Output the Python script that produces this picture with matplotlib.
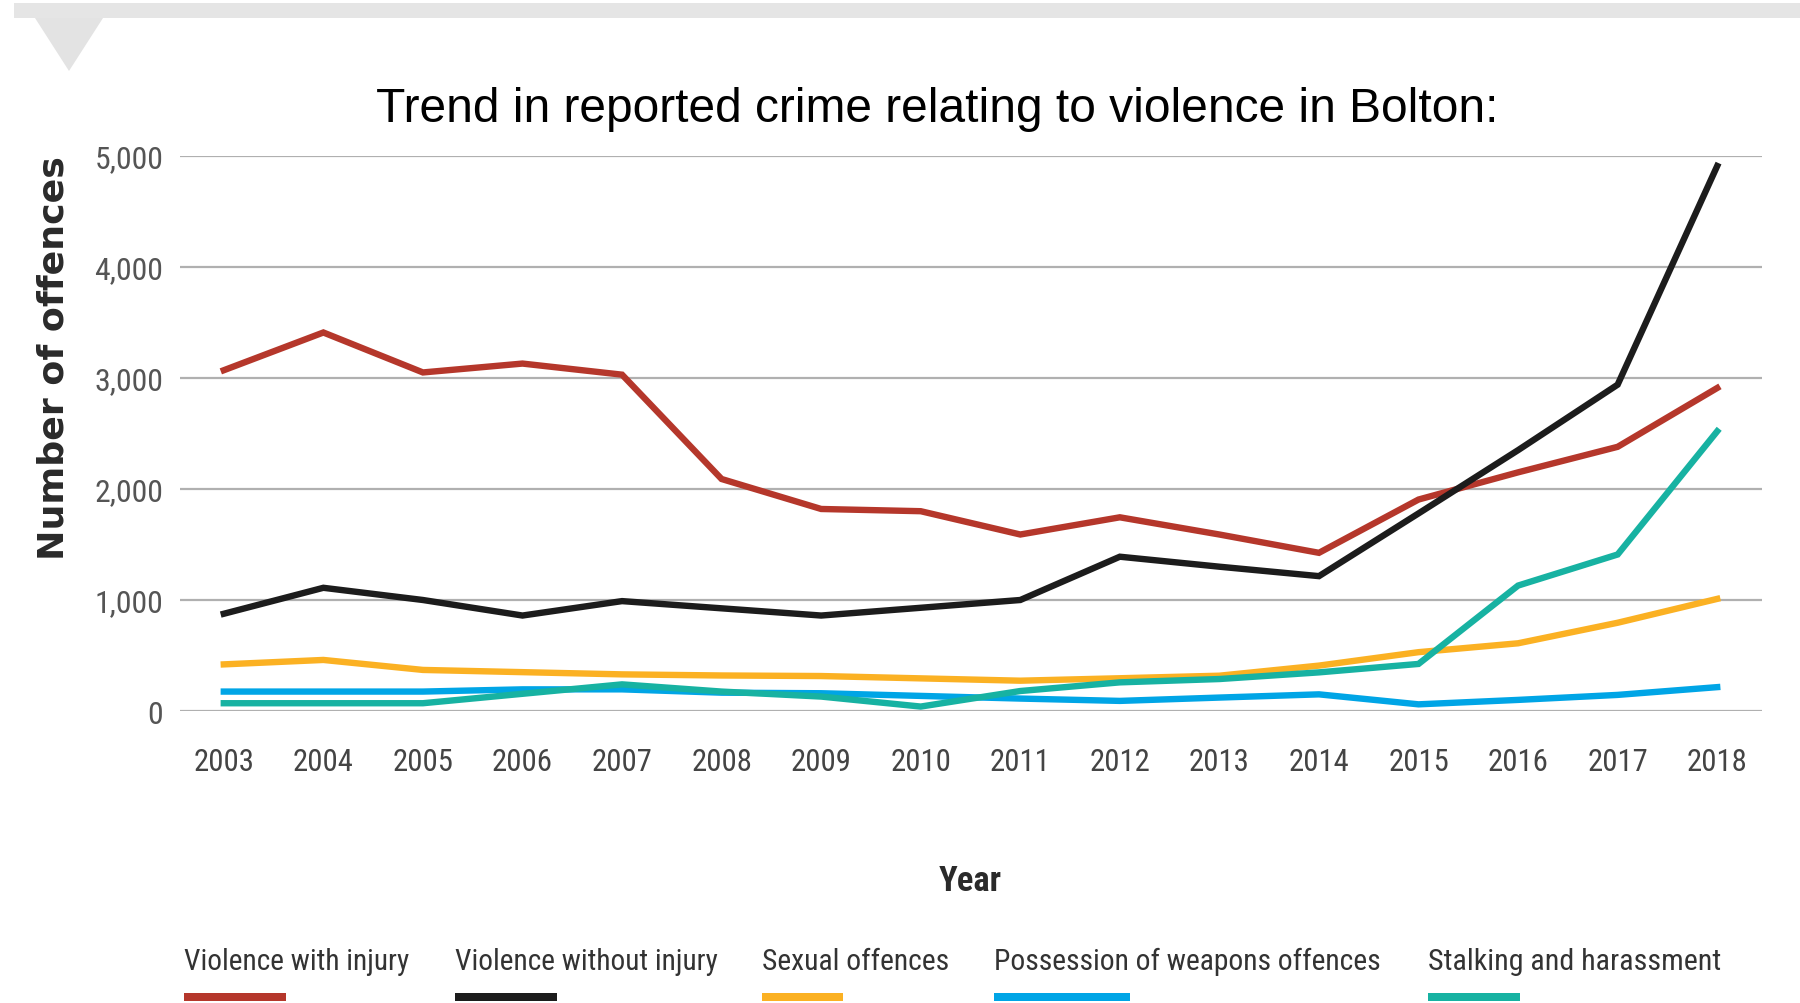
import matplotlib.pyplot as plt
from matplotlib import font_manager
from matplotlib.patches import Rectangle, Polygon

# Données
years = list(range(2003, 2019))
violence_injury = [3070, 3410, 3050, 3130, 3030, 2090, 1820, 1800, 1590, 1745, 1590, 1425, 1905, 2150, 2380, 2910]
violence_no_injury = [876, 1110, 1000, 860, 990, 925, 860, 930, 1000, 1390, 1300, 1215, 1780, 2350, 2940, 4910]
sexual = [420, 460, 370, 350, 330, 320, 315, 294, 273, 295, 318, 409, 530, 610, 795, 1010]
weapons = [175, 175, 175, 195, 195, 165, 160, 136, 112, 91, 121, 150, 60, 100, 145, 215]
stalking = [70, 70, 70, 155, 240, 175, 130, 40, 180, 258, 288, 348, 424, 1130, 1410, 2520]

series_names = ["Violence with injury", "Violence without injury", "Sexual offences",
                "Possession of weapons offences", "Stalking and harassment"]
series_values = [violence_injury, violence_no_injury, sexual, weapons, stalking]
colors = ["#b5372b", "#1c1c1c", "#fbb123", "#00a5e6", "#17b2a2"]

y_ticks = [0, 1000, 2000, 3000, 4000, 5000]
y_tick_labels = ["0", "1,000", "2,000", "3,000", "4,000", "5,000"]


def pick_font(names):
    for n in names:
        try:
            font_manager.findfont(font_manager.FontProperties(family=n), fallback_to_default=False)
            return n
        except ValueError:
            pass
    return "DejaVu Sans"


narrow = pick_font(["Liberation Sans Narrow", "Roboto Condensed", "DejaVu Sans Condensed", "Roboto"])

W, H = 1800, 1004
fig = plt.figure(figsize=(18, 10.04), dpi=100)
renderer = fig.canvas.get_renderer()


def fit(txt, target_px):
    # ajuste la taille pour retrouver la largeur du texte d'origine
    w = txt.get_window_extent(renderer).width
    txt.set_fontsize(txt.get_fontsize() * target_px / w)
    return txt


def fitted_size(s, target_px, **kw):
    t = fig.text(0, 0, s, fontsize=20, family=narrow, **kw)
    fit(t, target_px)
    size = t.get_fontsize()
    t.remove()
    return size


# bandeau gris + triangle en haut
fig.add_artist(Rectangle((14 / W, 1 - 19 / H), 1, 15 / H, transform=fig.transFigure,
                         color="#e5e5e5", lw=0))
fig.add_artist(Polygon([(35 / W, 1 - 19 / H), (103 / W, 1 - 19 / H), (69 / W, 1 - 72 / H)],
                       closed=True, transform=fig.transFigure, color="#e3e3e3", lw=0))

ax = fig.add_axes([180 / W, 1 - 712 / H, 1582 / W, 555 / H])
for vals, col in zip(series_values, colors):
    ax.plot(years, vals, color=col, lw=4.6, solid_joinstyle="miter", clip_on=False, zorder=3)

ax.set_xlim(2002.56, 2018.45)
ax.set_ylim(0, 5000)
ax.set_yticks(y_ticks)
ax.set_yticklabels(y_tick_labels)
ax.set_xticks(years)
ax.set_xticklabels([str(y) for y in years])
ax.grid(axis="y", color="#b0b0b0", lw=1.6, zorder=1)
ax.set_axisbelow(True)
for s in ax.spines.values():
    s.set_visible(False)
ax.tick_params(length=0)
ax.tick_params(axis="y", pad=12, labelsize=fitted_size("5,000", 69), labelcolor="#555555")
ax.tick_params(axis="x", pad=26, labelsize=fitted_size("2003", 61), labelcolor="#444444")
for lab in ax.get_xticklabels() + ax.get_yticklabels():
    lab.set_family(narrow)

title = fig.text(937 / W, 1 - 110 / H, "Trend in reported crime relating to violence in Bolton:",
                 ha="center", va="center", fontsize=32, family="Liberation Sans", color="black")
fit(title, 1123)
ylab = fig.text(54 / W, 1 - 358 / H, "Number of offences", rotation=90, ha="center", va="center",
                fontsize=25, fontweight="bold", family="DejaVu Sans", color="#2a2a2a")
ylab.set_fontsize(25 * 405 / ylab.get_window_extent(renderer).height)
xlab = fig.text(970 / W, 1 - 882 / H, "Year", ha="center", va="center", fontsize=25,
                fontweight="bold", family=narrow, color="#2a2a2a")
fit(xlab, 63)

# légende manuelle : texte au-dessus, trait de couleur en dessous
legend_x = [184, 455, 762, 994, 1428]
legend_w = [225, 263, 187, 388, 293]
swatch_w = [102, 102, 81, 136, 92]
for name, col, x0, tw, sw in zip(series_names, colors, legend_x, legend_w, swatch_w):
    t = fig.text(x0 / W, 1 - 962 / H, name, ha="left", va="center", fontsize=22,
                 family=narrow, color="#333333")
    fit(t, tw)
    fig.add_artist(Rectangle((x0 / W, 1 - 1002 / H), sw / W, 8 / H,
                             transform=fig.transFigure, color=col, lw=0))

fig.savefig("out.png", dpi=100, facecolor="white")
